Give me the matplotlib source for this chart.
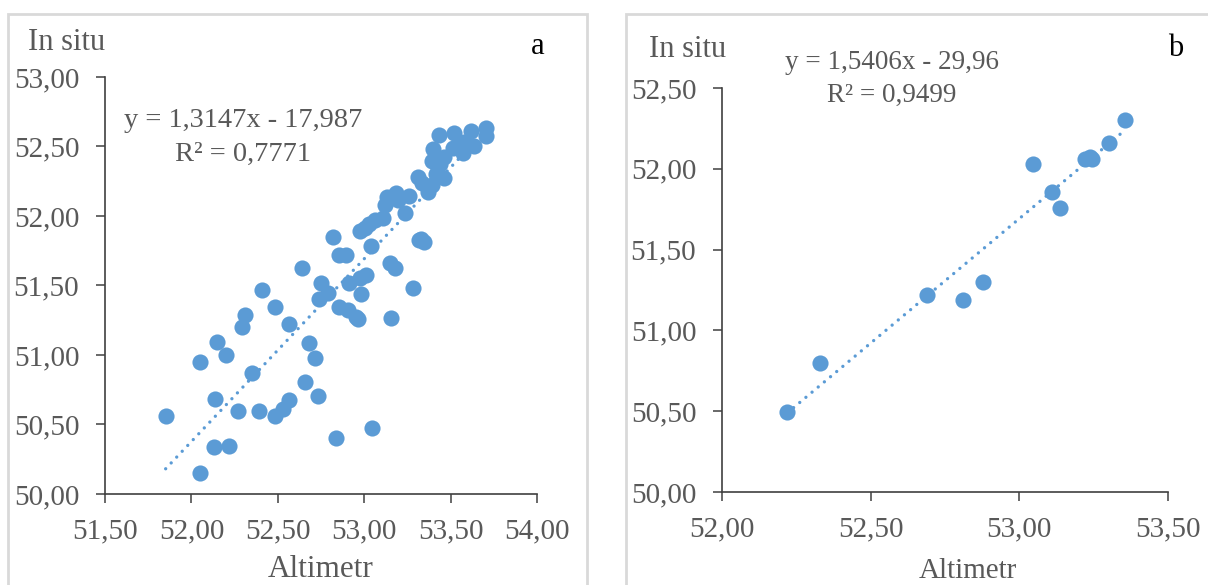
import matplotlib
matplotlib.use("Agg")
import matplotlib.pyplot as plt
from matplotlib.patches import Rectangle
from matplotlib.ticker import FuncFormatter, MultipleLocator
import numpy as np

# panel a : altimetr vs in situ
alt_a = [51.851, 52.052, 52.052, 52.129, 52.138, 52.149, 52.202, 52.216, 52.271, 52.295,
         52.313, 52.348, 52.390, 52.408, 52.481, 52.481, 52.531, 52.567, 52.567, 52.640,
         52.659, 52.682, 52.717, 52.732, 52.748, 52.741, 52.792, 52.818, 52.836, 52.852,
         52.852, 52.896, 52.907, 52.913, 52.951, 52.962, 52.980, 52.973, 53.013, 52.973,
         53.006, 53.028, 53.039, 53.046, 53.061, 53.106, 53.123, 53.132, 53.150, 53.154,
         53.178, 53.183, 53.194, 53.238, 53.260, 53.282, 53.309, 53.315, 53.326, 53.348,
         53.337, 53.371, 53.393, 53.397, 53.393, 53.432, 53.459, 53.459, 53.437, 53.521,
         53.514, 53.569, 53.580, 53.618, 53.636, 53.706, 53.706, 53.415, 53.547]
insitu_a = [50.559, 50.152, 50.947, 50.340, 50.684, 51.094, 51.000, 50.345, 50.594, 51.203,
            51.286, 50.872, 50.594, 51.468, 50.559, 51.348, 50.612, 50.674, 51.222, 51.626,
            50.807, 51.086, 50.981, 50.706, 51.516, 51.404, 51.444, 51.848, 50.404, 51.348,
            51.717, 51.717, 51.324, 51.521, 51.275, 51.262, 51.441, 51.556, 51.575, 51.890,
            51.917, 51.944, 51.783, 50.473, 51.971, 51.984, 52.078, 52.136, 51.663, 51.267,
            51.623, 52.163, 52.118, 52.024, 52.144, 51.481, 52.278, 51.824, 51.837, 51.816,
            52.238, 52.171, 52.225, 52.479, 52.398, 52.586, 52.270, 52.425, 52.372, 52.599,
            52.492, 52.452, 52.532, 52.612, 52.505, 52.631, 52.572, 52.305, 52.492]
slope_a, icept_a = 1.3147, -17.987

# panel b
alt_b = [52.220, 52.331, 52.690, 52.810, 52.879, 53.047, 53.109, 53.137, 53.220, 53.237,
         53.246, 53.302, 53.357]
insitu_b = [50.497, 50.800, 51.221, 51.186, 51.302, 52.030, 51.854, 51.757, 52.058, 52.070,
            52.058, 52.157, 52.300]
slope_b, icept_b = 1.5406, -29.96

W, H = 1208, 585
blue = "#5B9BD5"
grey = "#595959"
axcol = "#404040"
plt.rcParams["font.family"] = ["Liberation Serif", "DejaVu Serif"]

fig = plt.figure(figsize=(W / 100, H / 100), dpi=100)


def box(l, t, r, b):
    # pixel box -> figure fraction [left, bottom, width, height]
    return [l / W, 1 - b / H, (r - l) / W, (b - t) / H]


def ftxt(px, py, s, **kw):
    fig.text(px / W, 1 - py / H, s, **kw)


comma = FuncFormatter(lambda v, p: ("%.2f" % v).replace(".", ","))

# grey frames round each chart
fig.add_artist(Rectangle((8 / W, -0.05), (587 - 8) / W, 1.05 - 14 / H, transform=fig.transFigure,
                         fill=False, ec="#d9d9d9", lw=2))
fig.add_artist(Rectangle((626 / W, -0.05), (1215 - 626) / W, 1.05 - 14 / H, transform=fig.transFigure,
                         fill=False, ec="#d9d9d9", lw=2))


def panel(rect, x, y, slope, icept, xlim, ylim):
    ax = fig.add_axes(rect)
    ax.scatter(x, y, s=135, color=blue, linewidths=0, zorder=3)
    xs = np.array([min(x), max(x)])
    ax.plot(xs, slope * xs + icept, color=blue, lw=2.4, dashes=(0.01, 2.4),
            dash_capstyle="round", zorder=2)
    ax.set_xlim(*xlim)
    ax.set_ylim(*ylim)
    ax.xaxis.set_major_locator(MultipleLocator(0.5))
    ax.yaxis.set_major_locator(MultipleLocator(0.5))
    ax.xaxis.set_major_formatter(comma)
    ax.yaxis.set_major_formatter(comma)
    for s in ["top", "right"]:
        ax.spines[s].set_visible(False)
    for s in ["left", "bottom"]:
        ax.spines[s].set_color(axcol)
        ax.spines[s].set_linewidth(1.2)
    ax.tick_params(direction="out", length=6.5, width=1.1, color=axcol,
                   labelsize=21, labelcolor=grey)
    ax.tick_params(axis="y", pad=12)
    ax.tick_params(axis="x", pad=11)
    ax.patch.set_alpha(0)
    return ax


ax_a = panel(box(105, 77, 537, 494), alt_a, insitu_a, slope_a, icept_a, (51.5, 54.0), (50.0, 53.0))
ax_b = panel(box(722, 88, 1168, 492), alt_b, insitu_b, slope_b, icept_b, (52.0, 53.5), (50.0, 52.5))

# texts
ftxt(28, 50, "In situ", fontsize=22, color=grey, va="baseline")
ftxt(649, 57, "In situ", fontsize=22, color=grey, va="baseline")
ftxt(538, 54, "a", fontsize=22, color="black", va="baseline", ha="center")
ftxt(1176, 56, "b", fontsize=22, color="black", va="baseline", ha="center")
ftxt(321, 584, "Altimetr", fontsize=22.5, color=grey, va="bottom", ha="center")
ftxt(968, 578, "Altimetr", fontsize=21, color=grey, va="baseline", ha="center")

ftxt(243, 127, "y = 1,3147x - 17,987", fontsize=20.5, color=grey, va="baseline", ha="center")
ftxt(243, 161, "R² = 0,7771", fontsize=20.5, color=grey, va="baseline", ha="center")
ftxt(892, 69, "y = 1,5406x - 29,96", fontsize=19.5, color=grey, va="baseline", ha="center")
ftxt(892, 102, "R² = 0,9499", fontsize=19.5, color=grey, va="baseline", ha="center")

fig.savefig("out.png", dpi=100)
